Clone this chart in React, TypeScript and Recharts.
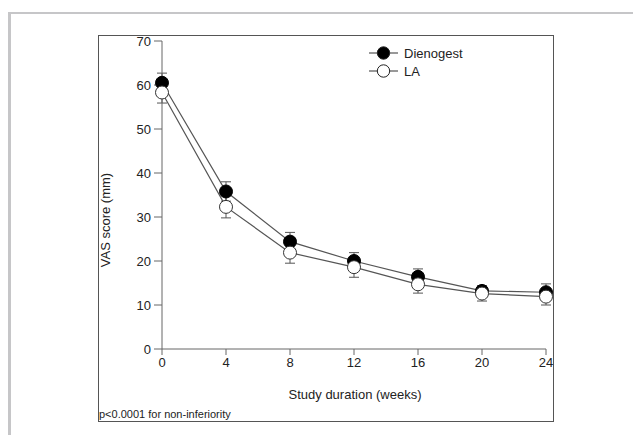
import { LineChart, Line, XAxis, YAxis, ErrorBar } from 'recharts';

const weeks = [0, 4, 8, 12, 16, 20, 24];
const dienogest = [60.5, 35.8, 24.4, 20.0, 16.4, 13.2, 12.9];
const dienogestErr = [2.2, 2.2, 2.1, 1.9, 1.8, 1.2, 1.9];
const la = [58.3, 32.3, 21.9, 18.6, 14.7, 12.6, 11.9];
const laErr = [2.4, 2.5, 2.4, 2.3, 2.0, 1.7, 1.9];
const xTicks = [0, 4, 8, 12, 16, 20, 24];
const yTicks = [0, 10, 20, 30, 40, 50, 60, 70];

const FONT = '"Liberation Sans", Arial, Helvetica, sans-serif';

const data = weeks.map((w, i) => ({
  week: w,
  dienogest: dienogest[i],
  dienogestErr: dienogestErr[i],
  la: la[i],
  laErr: laErr[i],
}));

function LegendBox() {
  const rows = [
    { name: 'Dienogest', fill: '#000' },
    { name: 'LA', fill: '#fff' },
  ];
  return (
    <svg width={120} height={40} style={{ position: 'absolute', left: 369, top: 45 }}>
      {rows.map((r, i) => (
        <g key={r.name} transform={`translate(0, ${8 + i * 18})`}>
          <line x1={0} x2={29} y1={0} y2={0} stroke="#555" strokeWidth={1.2} />
          <circle cx={14.5} cy={0} r={6.2} fill={r.fill} stroke="#222" strokeWidth={1} />
          <text x={35} y={4.5} fontSize={13} fill="#222" fontFamily={FONT}>
            {r.name}
          </text>
        </g>
      ))}
    </svg>
  );
}

export default function App() {
  return (
    <div
      style={{
        position: 'absolute',
        left: 0,
        top: 0,
        width: 633,
        height: 435,
        overflow: 'hidden',
        background: '#fff',
        fontFamily: FONT,
      }}
    >
      {/* outer grey frame */}
      <div
        style={{
          position: 'absolute',
          left: 8,
          top: 12,
          width: 700,
          height: 500,
          borderLeft: '3px solid #c6c6c8',
          borderTop: '2px solid #c6c6c8',
        }}
      />
      {/* inner figure frame */}
      <div
        style={{
          position: 'absolute',
          left: 98,
          top: 35,
          width: 454,
          height: 385,
          border: '1px solid #555',
        }}
      />
      <div style={{ position: 'absolute', left: 0, top: 0 }}>
        <LineChart
          width={633}
          height={435}
          data={data}
          margin={{ top: 41, right: 87, bottom: 56, left: 102 }}
        >
          <XAxis
            dataKey="week"
            type="number"
            domain={[0, 24]}
            ticks={xTicks}
            height={30}
            tickSize={6}
            tickMargin={3}
            stroke="#666"
            tick={{ fill: '#222', fontSize: 13, fontFamily: FONT }}
          />
          <YAxis
            type="number"
            domain={[0, 70]}
            ticks={yTicks}
            width={60}
            tickSize={8}
            tickMargin={3}
            stroke="#666"
            tick={{ fill: '#222', fontSize: 13, fontFamily: FONT }}
          />
          <Line
            type="linear"
            dataKey="dienogest"
            stroke="#555"
            strokeWidth={1.2}
            dot={{ r: 6.5, fill: '#000', stroke: '#000', strokeWidth: 1 }}
            activeDot={false}
            isAnimationActive={false}
          >
            <ErrorBar dataKey="dienogestErr" direction="y" width={5} stroke="#555" strokeWidth={1} />
          </Line>
          <Line
            type="linear"
            dataKey="la"
            stroke="#555"
            strokeWidth={1.2}
            dot={{ r: 6.5, fill: '#fff', stroke: '#333', strokeWidth: 1 }}
            activeDot={false}
            isAnimationActive={false}
          >
            <ErrorBar dataKey="laErr" direction="y" width={5} stroke="#555" strokeWidth={1} />
          </Line>
        </LineChart>
      </div>
      <LegendBox />
      <div
        style={{
          position: 'absolute',
          left: 105,
          top: 220,
          transform: 'translate(-50%, -50%) rotate(-90deg)',
          fontSize: 13,
          color: '#222',
          whiteSpace: 'nowrap',
        }}
      >
        VAS score (mm)
      </div>
      <div
        style={{
          position: 'absolute',
          left: 355,
          top: 394,
          transform: 'translate(-50%, -50%)',
          fontSize: 13,
          color: '#222',
          whiteSpace: 'nowrap',
        }}
      >
        Study duration (weeks)
      </div>
      <div
        style={{
          position: 'absolute',
          left: 99,
          top: 408,
          fontSize: 11,
          color: '#222',
          whiteSpace: 'nowrap',
          lineHeight: '13px',
        }}
      >
        p&lt;0.0001 for non-inferiority
      </div>
    </div>
  );
}
